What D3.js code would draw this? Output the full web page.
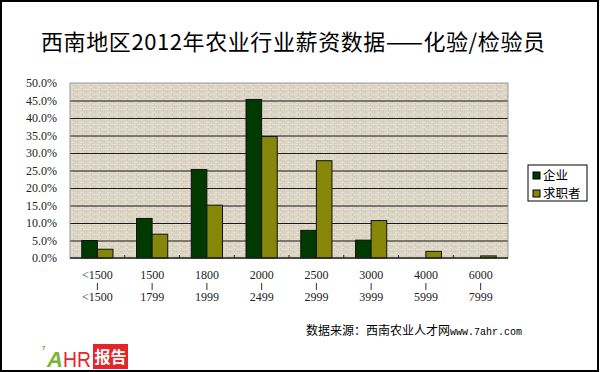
<!DOCTYPE html>
<html>
<head>
<meta charset="utf-8">
<script src="https://cdn.jsdelivr.net/npm/d3@7"></script>
<style>
  body { margin: 0; background: #fff; }
  svg { display: block; }
</style>
</head>
<body>
<svg id="drawing_region"></svg>
<script>
// salary bands (two label rows) and the share of each group, in percent
const bandFrom = ["<1500", "1500", "1800", "2000", "2500", "3000", "4000", "6000"];
const bandTo   = ["<1500", "1799", "1999", "2499", "2999", "3999", "5999", "7999"];
const seriesNames = ["企业", "求职者"];
const enterprise = [5.0, 11.3, 25.3, 45.3, 7.9, 5.1, 0, 0];
const seekers    = [2.5, 6.8, 15.1, 34.7, 27.8, 10.7, 1.9, 0.6];
const yTicks = [0, 5, 10, 15, 20, 25, 30, 35, 40, 45, 50];

const colors = ["#003a00", "#868608"];
const W = 600, H = 372;
const margin = { left: 70, top: 83, right: 92, bottom: 114 };
const pw = W - margin.left - margin.right;   // 438
const ph = H - margin.top - margin.bottom;   // 175

const svg = d3.select("#drawing_region").attr("width", W).attr("height", H);

// canvas-like texture for the plot area
const defs = svg.append("defs");
const pat = defs.append("pattern").attr("id", "cloth")
  .attr("width", 9).attr("height", 5).attr("patternUnits", "userSpaceOnUse");
pat.append("rect").attr("width", 9).attr("height", 5).attr("fill", "#ddd5c4");
pat.append("rect").attr("x", 0).attr("y", 1).attr("width", 9).attr("height", 1).attr("fill", "#e5ded0");
pat.append("rect").attr("x", 3).attr("y", 0).attr("width", 1).attr("height", 3).attr("fill", "#d3cab8");
pat.append("rect").attr("x", 7).attr("y", 2).attr("width", 1).attr("height", 3).attr("fill", "#d5ccbb");
pat.append("rect").attr("x", 1).attr("y", 4).attr("width", 3).attr("height", 1).attr("fill", "#e8e2d6");
pat.append("rect").attr("x", 5).attr("y", 3).attr("width", 1).attr("height", 1).attr("fill", "#cdc4b1");

// outer frame
svg.append("rect").attr("x", 1).attr("y", 1).attr("width", W - 3).attr("height", H - 2)
  .attr("fill", "none").attr("stroke", "#000").attr("stroke-width", 2);

// title
svg.append("text").attr("x", 293).attr("y", 50)
  .attr("text-anchor", "middle")
  .style("font-family", "'Noto Sans CJK SC', sans-serif")
  .style("font-size", "22px").attr("fill", "#000")
  .attr("textLength", 504).attr("lengthAdjust", "spacing")
  .text("西南地区2012年农业行业薪资数据——化验/检验员");

const g = svg.append("g").attr("transform", `translate(${margin.left},${margin.top})`);

const y = d3.scaleLinear().domain([0, 50]).range([ph, 0]);
const x0 = d3.scaleBand().domain(d3.range(bandFrom.length)).range([0, pw])
  .paddingInner(0.43).paddingOuter(0.215);
const x1 = d3.scaleBand().domain(d3.range(seriesNames.length)).range([0, x0.bandwidth()]);

g.append("rect").attr("width", pw).attr("height", ph).attr("fill", "url(#cloth)");

// gridlines
const grid = g.append("g").call(d3.axisLeft(y).tickValues(yTicks.slice(1, -1)).tickSize(-pw).tickFormat(""));
grid.select(".domain").remove();
grid.selectAll("line").attr("stroke", "#1a1a1a").attr("stroke-width", 1);

// plot border
g.append("rect").attr("width", pw).attr("height", ph)
  .attr("fill", "none").attr("stroke", "#9a9a9a").attr("stroke-width", 1);

// bars
const series = [enterprise, seekers];
const groups = g.selectAll(".grp").data(bandFrom.map((d, i) => i)).enter().append("g")
  .attr("transform", i => `translate(${x0(i)},0)`);
groups.selectAll("rect")
  .data(i => series.map((s, k) => ({ k, v: s[i] })).filter(d => d.v > 0))
  .enter().append("rect")
  .attr("x", d => x1(d.k))
  .attr("y", d => y(d.v))
  .attr("width", x1.bandwidth())
  .attr("height", d => ph - y(d.v))
  .attr("fill", d => colors[d.k])
  .attr("stroke", "#111").attr("stroke-width", 1);

// x axis line with inside ticks at band boundaries
g.append("line").attr("x1", 0).attr("x2", pw).attr("y1", ph).attr("y2", ph)
  .attr("stroke", "#222").attr("stroke-width", 1.5);
const step = x0.step();
g.selectAll(".xtick").data(d3.range(1, bandFrom.length)).enter().append("line")
  .attr("x1", i => i * step).attr("x2", i => i * step)
  .attr("y1", ph).attr("y2", ph - 3)
  .attr("stroke", "#222");

// y axis labels
const yAxis = g.append("g").attr("transform", "translate(-10,0)")
  .call(d3.axisLeft(y).tickValues(yTicks).tickSize(0).tickFormat(d => d3.format(".1f")(d) + "%"));
yAxis.select(".domain").remove();
yAxis.selectAll("text")
  .style("font-family", "'Liberation Serif', serif")
  .style("font-size", "12px").attr("fill", "#222");

// x axis labels (from / | / to)
const xl = g.selectAll(".xlab").data(bandFrom.map((d, i) => i)).enter().append("g")
  .attr("transform", i => `translate(${x0(i) + x0.bandwidth() / 2},${ph})`)
  .style("font-family", "'Liberation Serif', serif")
  .style("font-size", "12px").attr("fill", "#222");
xl.append("text").attr("y", 21).attr("text-anchor", "middle").text(i => bandFrom[i]);
xl.append("line").attr("x1", 0).attr("x2", 0).attr("y1", 25).attr("y2", 32).attr("stroke", "#333");
xl.append("text").attr("y", 43).attr("text-anchor", "middle").text(i => bandTo[i]);

// legend
const lg = svg.append("g").attr("transform", "translate(528,165)");
lg.append("rect").attr("width", 59).attr("height", 36)
  .attr("fill", "#fff").attr("stroke", "#000");
seriesNames.forEach((name, k) => {
  lg.append("rect").attr("x", 5).attr("y", 7 + k * 18).attr("width", 7).attr("height", 7)
    .attr("fill", colors[k]).attr("stroke", "#000");
  lg.append("text").attr("x", 15).attr("y", 15 + k * 18)
    .style("font-family", "'Noto Sans CJK SC', sans-serif")
    .style("font-size", "12.5px").attr("fill", "#000").text(name);
});

// source note
const src = svg.append("text").attr("x", 306).attr("y", 335)
  .style("font-size", "12px").attr("fill", "#000");
src.append("tspan").style("font-family", "'Noto Sans CJK SC', sans-serif").text("数据来源：西南农业人才网");
src.append("tspan").style("font-family", "'Liberation Mono', monospace").style("font-size", "10px").text("www.7ahr.com");

// logo
const logo = svg.append("g").attr("transform", "translate(42,344)");
logo.append("text").attr("x", 0).attr("y", 6)
  .style("font-family", "'Liberation Sans', sans-serif").style("font-size", "6px")
  .attr("font-weight", "bold").attr("fill", "#6aa82a").text("7");
logo.append("text").attr("x", 5).attr("y", 23)
  .style("font-family", "'Liberation Sans', sans-serif").style("font-size", "22px")
  .style("font-style", "italic").attr("font-weight", "bold").attr("fill", "#7bb532").text("A");
logo.append("text").attr("x", 21).attr("y", 23)
  .style("font-family", "'Liberation Sans', sans-serif").style("font-size", "22px")
  .attr("textLength", 28).attr("lengthAdjust", "spacingAndGlyphs")
  .attr("fill", "#e3262a").text("HR");
logo.append("rect").attr("x", 51).attr("y", 0).attr("width", 35).attr("height", 25).attr("fill", "#e3262a");
logo.append("text").attr("x", 68.5).attr("y", 19).attr("text-anchor", "middle")
  .style("font-family", "'Noto Sans CJK SC', sans-serif").style("font-size", "16px")
  .attr("font-weight", "bold").attr("fill", "#fff").text("报告");
</script>
</body>
</html>
